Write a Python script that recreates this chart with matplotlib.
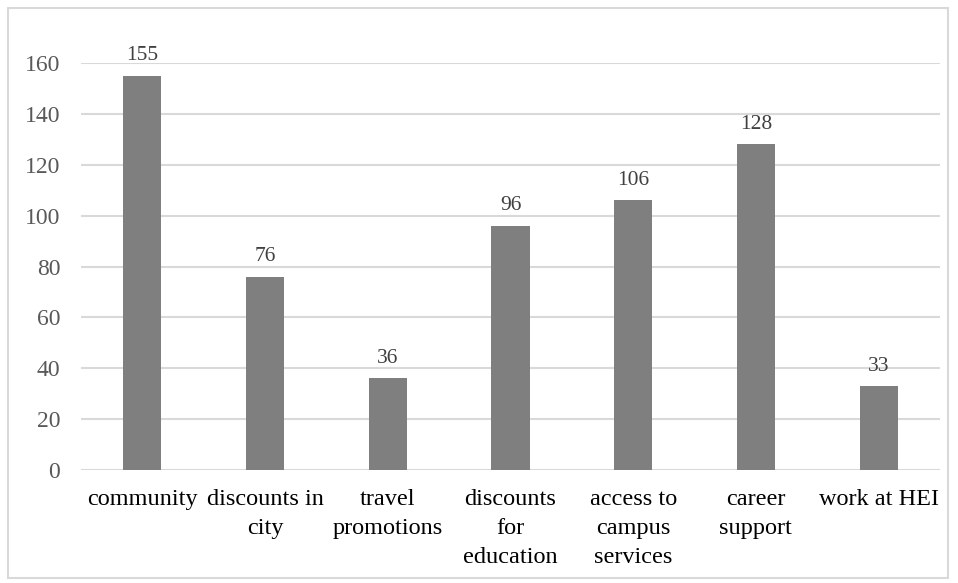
import matplotlib
matplotlib.use("Agg")
import matplotlib.pyplot as plt
from matplotlib.patches import Rectangle

categories = ["community", "discounts in\ncity", "travel\npromotions", "discounts\nfor\neducation",
              "access to\ncampus\nservices", "career\nsupport", "work at HEI"]
values = [155, 76, 36, 96, 106, 128, 33]
yticks = [0, 20, 40, 60, 80, 100, 120, 140, 160]

plt.rcParams["font.family"] = ["Liberation Serif", "DejaVu Serif"]

fig = plt.figure(figsize=(9.58, 5.83), dpi=100)
ax = fig.add_axes([0.0846, 0.1938, 0.8966, 0.698])

x = range(len(categories))
bars = ax.bar(x, values, width=0.31, color="#7f7f7f", zorder=3)

for xi, v in zip(x, values):
    ax.annotate(str(v), (xi, v), xytext=(0, 7.5), textcoords="offset points",
                ha="center", va="bottom", fontsize=15.5, color="#404040",
                clip_on=False)

ax.set_xlim(-0.5, len(categories) - 0.5)
ax.set_ylim(0, 160)
ax.set_yticks(yticks)
ax.set_yticklabels([str(t) for t in yticks])
ax.set_xticks(list(x))
ax.set_xticklabels(categories, linespacing=1.5)

ax.grid(axis="y", color="#d9d9d9", linewidth=1.5, zorder=0)
ax.set_axisbelow(True)
for side in ["top", "right", "left", "bottom"]:
    ax.spines[side].set_visible(False)

ax.tick_params(axis="y", length=0, pad=15, labelsize=17, labelcolor="#595959")
ax.tick_params(axis="x", length=0, pad=13.5, labelsize=17.5, labelcolor="#000000")

# light frame around the whole chart area
fig.patches.append(Rectangle((8 / 958, 5 / 583), 940 / 958, 570 / 583,
                             transform=fig.transFigure, fill=False,
                             edgecolor="#d9d9d9", linewidth=1.5))

fig.savefig("out.png", dpi=100, facecolor="white")
